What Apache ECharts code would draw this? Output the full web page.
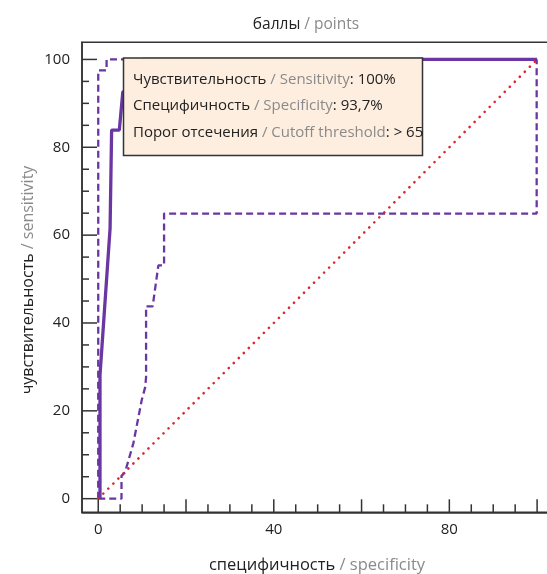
<!DOCTYPE html>
<html>
<head>
<meta charset="utf-8">
<script src="https://cdn.jsdelivr.net/npm/echarts@6/dist/echarts.min.js"></script>
<style>html,body{margin:0;padding:0;background:#fff}#c{width:547px;height:574px}</style>
</head>
<body>
<div id="c"></div>
<script>
// ---- data ----
const rocX = [0.4, 0.4, 2.7, 3.05, 4.8, 5.6, 8.0, 10.0, 100];
const rocY = [0, 28.1, 61.6, 83.9, 83.9, 92.6, 93.7, 100, 100];
const ciUpperX = [0, 0, 1.9, 1.9, 100];
const ciUpperY = [0, 97.5, 97.5, 100, 100];
const ciLowerX = [0, 5.3, 5.3, 6.1, 8.0, 9.9, 10.7, 10.9, 10.9, 12.4, 13.7, 15.0, 15.0, 99.9, 99.9];
const ciLowerY = [0, 0, 5.2, 6.0, 12.6, 22.4, 25.4, 27.7, 43.8, 43.8, 53.1, 53.1, 64.9, 64.9, 100];
const refX = [0, 100];
const refY = [0, 100];
const xMajorTicks = [0, 20, 40, 60, 80, 100];
const xMinorTicks = [5, 10, 15, 25, 30, 35, 45, 50, 55, 65, 70, 75, 85, 90, 95];
const xLabels = [0, 40, 80];
const yMajorTicks = [0, 20, 40, 60, 80, 100];
const yMinorTicks = [5, 10, 15, 25, 30, 35, 45, 50, 55, 65, 70, 75, 85, 90, 95];
const yLabels = [0, 20, 40, 60, 80, 100];
const infoLines = [
  ['Чувствительность', 'Sensitivity', '100%'],
  ['Специфичность', 'Specificity', '93,7%'],
  ['Порог отсечения', 'Cutoff threshold', '> 65']
];
// ---- chart ----
const FONT = '"Open Sans", sans-serif';
const DARK = '#222';
const GREY = '#8a8a8a';
const PURPLE = '#6a36a2';
const AX = '#333';
const zip = (a, b) => a.map((v, i) => [v, b[i]]);
const XMIN = -3.7, XMAX = 110, YMIN = -3.1, YMAX = 103.9;
const G = {left: 82, top: 42.3, width: 499, height: 470};
const mkRich = (fs, key) => ({
  d: {[key]: DARK, fontFamily: FONT, fontSize: fs, fontWeight: 'normal'},
  g: {[key]: GREY, fontFamily: FONT, fontSize: fs, fontWeight: 'normal'}
});
const boxRich = {
  d: {fill: DARK, fontFamily: FONT, fontSize: 15, lineHeight: 26.7},
  g: {fill: GREY, fontFamily: FONT, fontSize: 15, lineHeight: 26.7}
};
const chart = echarts.init(document.getElementById('c'));
const infoText = infoLines.map(l => '{d|' + l[0] + '}{g| / ' + l[1] + '}{d|: ' + l[2] + '}').join('\n');
chart.setOption({
  animation: false,
  grid: Object.assign({show: true, borderColor: AX, borderWidth: 1.5,
    containLabel: false, outerBoundsMode: 'none'}, G),
  xAxis: {type: 'value', min: XMIN, max: XMAX, splitLine: {show: false},
    axisLine: {show: true, onZero: false, lineStyle: {color: AX, width: 1.5}},
    axisTick: {show: false},
    axisLabel: {show: true, customValues: xLabels, margin: 10, fontSize: 15, color: DARK, fontFamily: FONT}},
  yAxis: {type: 'value', min: YMIN, max: YMAX, splitLine: {show: false},
    axisLine: {show: true, onZero: false, lineStyle: {color: AX, width: 1.5}},
    axisTick: {show: false},
    axisLabel: {show: true, customValues: yLabels, margin: 12, fontSize: 15, color: DARK, fontFamily: FONT}},
  title: [
    {text: '{d|баллы}{g| / points}', left: 301, top: 12, textAlign: 'center', textStyle: {rich: mkRich(15.5, 'color')}},
    {text: '{d|специфичность}{g| / specificity}', left: 312, top: 552, textAlign: 'center', textStyle: {rich: mkRich(16.5, 'color')}}
  ],
  series: [
    {type: 'line', data: zip(ciUpperX, ciUpperY), showSymbol: false, symbol: 'none',
      lineStyle: {color: PURPLE, width: 2.3, type: [7, 4]}, z: 2},
    {type: 'line', data: zip(ciLowerX, ciLowerY), showSymbol: false, symbol: 'none',
      lineStyle: {color: PURPLE, width: 2.3, type: [7, 4]}, z: 2},
    {type: 'line', data: zip(rocX, rocY), showSymbol: false, symbol: 'none',
      lineStyle: {color: PURPLE, width: 3.3}, z: 3},
    {type: 'line', data: zip(refX, refY), showSymbol: false, symbol: 'none',
      lineStyle: {color: '#e0242e', width: 2.6, type: [0.1, 7], cap: 'round'}, z: 4}
  ]
});
// pixel position of a data point via the chart's scales (fallback: same linear grid mapping)
function toPx(x, y) {
  let p = null;
  try { p = chart.convertToPixel({xAxisIndex: 0, yAxisIndex: 0}, [x, y]); } catch (e) { p = null; }
  if (!p || !isFinite(p[0]) || !isFinite(p[1])) {
    p = [G.left + (x - XMIN) / (XMAX - XMIN) * G.width,
         G.top + G.height - (y - YMIN) / (YMAX - YMIN) * G.height];
  }
  return p;
}
const TW = 1.5;
const tickRects = [];
function addXTicks(vals, len) {
  vals.forEach(v => {
    const p = toPx(v, YMIN);
    tickRects.push({type: 'rect', z: 200, zlevel: 1, silent: true,
      shape: {x: p[0] - TW / 2, y: p[1] - len, width: TW, height: len}, style: {fill: AX, stroke: null}});
  });
}
function addYTicks(vals, len) {
  vals.forEach(v => {
    const p = toPx(XMIN, v);
    tickRects.push({type: 'rect', z: 200, zlevel: 1, silent: true,
      shape: {x: p[0], y: p[1] - TW / 2, width: len, height: TW}, style: {fill: AX, stroke: null}});
  });
}
addXTicks(xMajorTicks, 13);
addXTicks(xMinorTicks, 8);
addYTicks(yMajorTicks, 15);
addYTicks(yMinorTicks, 7);
chart.setOption({
  graphic: tickRects.concat([
    {type: 'text', x: 28, y: 280, rotation: Math.PI / 2, z: 100,
      style: {text: '{d|чувствительность}{g| / sensitivity}', rich: mkRich(16, 'fill'), align: 'center', verticalAlign: 'middle'}},
    {type: 'rect', z: 100, shape: {x: 123.5, y: 58, width: 299, height: 97.5},
      style: {fill: '#fdeedf', stroke: AX, lineWidth: 1.5}},
    {type: 'text', z: 101, x: 133, y: 66, style: {text: infoText, rich: boxRich}}
  ])
});
</script>
</body>
</html>
